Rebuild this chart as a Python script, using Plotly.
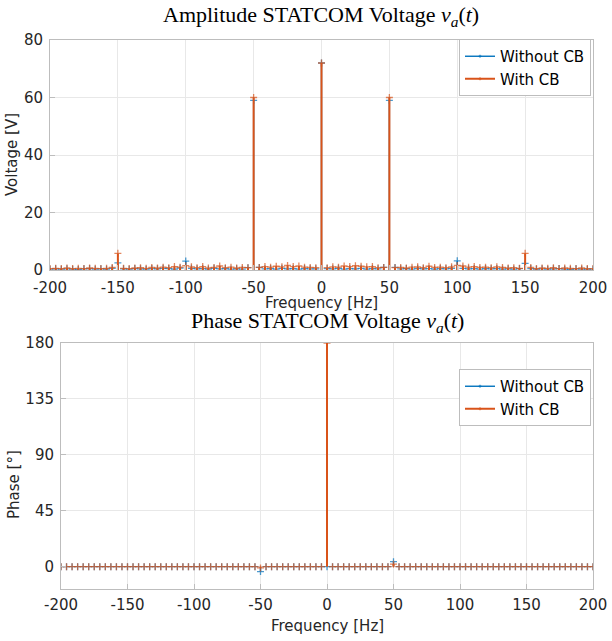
import numpy as np
import plotly.graph_objects as go

# Frequency bins (Hz): 50/12 Hz resolution, -200..200
k_bins = list(range(-48, 49))
freq = [k * 50.0 / 12.0 for k in k_bins]

amp_without = [
    0.3, 0.4, 0.3, 0.4, 0.3, 0.2, 0.4, 0.5, 0.3, 0.4, 0.3, 0.6,
    2.5,
    0.4, 0.3, 0.5, 0.4, 0.3, 0.5, 0.4, 0.6, 0.5, 0.3, 0.7,
    3.1,
    0.6, 0.4, 0.5, 0.3, 0.6, 0.4, 0.5, 0.3, 0.4, 0.3, 0.8,
    59.0,
    0.9, 0.4, 0.5, 0.3, 0.6, 0.4, 0.5, 0.3, 0.5, 0.4, 0.4,
    72.0,
    0.5, 0.4, 0.6, 0.3, 0.5, 0.4, 0.6, 0.3, 0.5, 0.4, 0.9,
    59.0,
    0.9, 0.4, 0.5, 0.3, 0.6, 0.4, 0.5, 0.3, 0.5, 0.4, 0.6,
    3.2,
    0.6, 0.4, 0.5, 0.3, 0.5, 0.4, 0.5, 0.3, 0.4, 0.3, 0.5,
    2.3,
    0.5, 0.3, 0.4, 0.3, 0.4, 0.5, 0.3, 0.2, 0.4, 0.3, 0.3, 0.3,
]
amp_with = [
    0.5, 0.6, 0.5, 0.7, 0.5, 0.6, 0.5, 0.7, 0.6, 0.5, 0.6, 0.9,
    5.8,
    0.6, 0.5, 0.7, 0.8, 0.6, 0.9, 0.7, 1.0, 0.8, 1.2, 1.0,
    1.5,
    1.1, 0.8, 1.2, 0.7, 0.9, 1.4, 0.8, 1.0, 0.7, 0.9, 0.8,
    60.0,
    0.9, 1.2, 1.0, 1.3, 1.1, 1.6, 1.2, 1.4, 1.0, 0.9, 0.8,
    72.0,
    0.8, 1.1, 1.0, 1.4, 1.2, 1.5, 1.3, 1.1, 1.2, 0.8, 0.9,
    60.0,
    0.8, 0.9, 0.7, 1.0, 1.1, 0.8, 1.3, 0.9, 1.0, 0.8, 1.1,
    1.6,
    1.4, 1.0, 1.2, 0.9, 1.0, 0.8, 1.1, 0.9, 0.7, 0.8, 0.6,
    5.8,
    0.9, 0.5, 0.7, 0.6, 0.8, 0.5, 0.7, 0.6, 0.5, 0.7, 0.5, 0.5,
]

phase_without = [
    0, 0, 0, 0, 0, 0, 0, 0, 0, 0, 0, 0,
    0,
    0, 0, 0, 0, 0, 0, 0, 0, 0, 0, 0,
    0,
    0, 0, 0, 0, 0, 0, 0, 0, 0, 0, 0,
    -4,
    0, 0, 0, 0, 0, 0, 0, 0, 0, 0, 0,
    0,
    0, 0, 0, 0, 0, 0, 0, 0, 0, 0, 0,
    4,
    0, 0, 0, 0, 0, 0, 0, 0, 0, 0, 0,
    0,
    0, 0, 0, 0, 0, 0, 0, 0, 0, 0, 0,
    0,
    0, 0, 0, 0, 0, 0, 0, 0, 0, 0, 0, 0,
]
phase_with = [
    0, 0, 0, 0, 0, 0, 0, 0, 0, 0, 0, 0,
    0,
    0, 0, 0, 0, 0, 0, 0, 0, 0, 0, 0,
    0,
    0, 0, 0, 0, 0, 0, 0, 0, 0, 0, 0,
    -1,
    0, 0, 0, 0, 0, 0, 0, 0, 0, 0, 0,
    180,
    0, 0, 0, 0, 0, 0, 0, 0, 0, 0, 0,
    2,
    0, 0, 0, 0, 0, 0, 0, 0, 0, 0, 0,
    0,
    0, 0, 0, 0, 0, 0, 0, 0, 0, 0, 0,
    0,
    0, 0, 0, 0, 0, 0, 0, 0, 0, 0, 0, 0,
]

x_ticks = [-200, -150, -100, -50, 0, 50, 100, 150, 200]
x_ticktext = ["-200", "-150", "-100", "-50", "0", "50", "100", "150", "200"]
amp_ticks = [0, 20, 40, 60, 80]
phase_ticks = [0, 45, 90, 135, 180]

BLUE = "#0072BD"
ORANGE = "#D95319"
FONT = "DejaVu Sans"
TXT = "#262626"


def stem_xy(xs, ys):
    sx, sy, ss = [], [], []
    for x, y in zip(xs, ys):
        sx += [x, x, None]
        sy += [0, y, None]
        ss += [0, 5, 0]
    return sx, sy, ss


fig = go.Figure()

for name, col, lw, amp, ph in [("Without CB", BLUE, 1.4, amp_without, phase_without),
                               ("With CB", ORANGE, 2, amp_with, phase_with)]:
    sx, sy, ss = stem_xy(freq, amp)
    fig.add_trace(go.Scatter(
        x=sx, y=sy, mode="lines+markers", name=name,
        line=dict(color=col, width=lw),
        marker=dict(symbol="cross-thin", size=ss, color=col,
                    line=dict(color=col, width=1.3)),
        xaxis="x", yaxis="y", legend="legend", connectgaps=False))
    sx, sy, ss = stem_xy(freq, ph)
    fig.add_trace(go.Scatter(
        x=sx, y=sy, mode="lines+markers", name=name,
        line=dict(color=col, width=lw),
        marker=dict(symbol="cross-thin", size=ss, color=col,
                    line=dict(color=col, width=1.3)),
        xaxis="x2", yaxis="y2", legend="legend2", connectgaps=False))

axis_common = dict(
    showgrid=True, gridcolor="#e8e8e8", gridwidth=1, automargin=False,
    zeroline=False, showline=True, linecolor="#bdbdbd", linewidth=1,
    mirror=True, ticks="inside", ticklen=5, tickcolor="#bdbdbd",
    tickfont=dict(family=FONT, size=15, color=TXT),
)

fig.update_layout(
    width=612, height=641,
    margin=dict(l=0, r=0, t=0, b=0, pad=0, autoexpand=False),
    paper_bgcolor="white", plot_bgcolor="white",
    showlegend=True,
    xaxis=dict(domain=[50/612, 593/612], anchor="y", range=[-200, 200],
               tickvals=x_ticks, ticktext=x_ticktext, ticklabelstandoff=4, **axis_common),
    yaxis=dict(domain=[1-270/641, 1-40/641], anchor="x", range=[0, 80],
               tickvals=amp_ticks, ticklabelstandoff=3, **axis_common),
    xaxis2=dict(domain=[61/612, 593/612], anchor="y2", range=[-200, 200],
                tickvals=x_ticks, ticktext=x_ticktext, ticklabelstandoff=2, **axis_common),
    yaxis2=dict(domain=[1-589/641, 1-343/641], anchor="x2", range=[-18, 180],
                tickvals=phase_ticks, ticklabelstandoff=3, **axis_common),
    legend=dict(x=591/612, y=1-39/641, xanchor="right", yanchor="top",
                bgcolor="white", bordercolor="#bdbdbd", borderwidth=1,
                font=dict(family=FONT, size=15, color="black"),
                itemwidth=30, tracegroupgap=0),
    legend2=dict(x=591/612, y=1-369/641, xanchor="right", yanchor="top",
                 bgcolor="white", bordercolor="#bdbdbd", borderwidth=1,
                 font=dict(family=FONT, size=15, color="black"),
                 itemwidth=30, tracegroupgap=0),
)

ann = [
    dict(text="Amplitude STATCOM Voltage <i>v</i><sub><i>a</i></sub>(<i>t</i>)",
         x=321/612, y=1-16/641, font=dict(family="Liberation Serif", size=22, color="black")),
    dict(text="Phase STATCOM Voltage <i>v</i><sub><i>a</i></sub>(<i>t</i>)",
         x=327/612, y=1-322/641, font=dict(family="Liberation Serif", size=22, color="black")),
    dict(text="Frequency [Hz]", x=321/612, y=1-303/641,
         font=dict(family=FONT, size=15, color=TXT)),
    dict(text="Frequency [Hz]", x=327/612, y=1-626/641,
         font=dict(family=FONT, size=15, color=TXT)),
    dict(text="Voltage [V]", x=12/612, y=1-155/641, textangle=-90,
         font=dict(family=FONT, size=15, color=TXT)),
    dict(text="Phase [°]", x=14/612, y=1-485/641, textangle=-90,
         font=dict(family=FONT, size=15, color=TXT)),
]
for a in ann:
    fig.add_annotation(xref="paper", yref="paper", showarrow=False,
                       xanchor="center", yanchor="middle", **a)

fig.write_html("out.html")
